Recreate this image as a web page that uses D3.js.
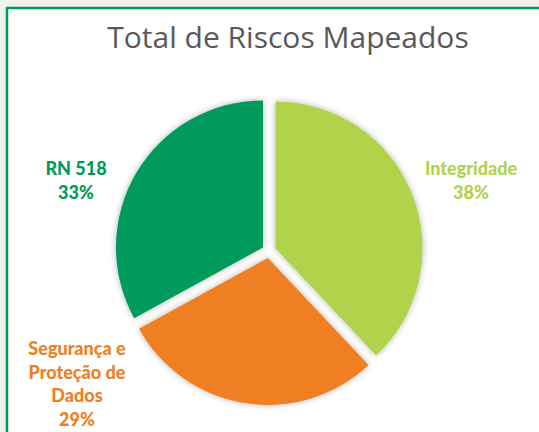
<!DOCTYPE html>
<html>
<head>
<meta charset="utf-8">
<script src="https://cdn.jsdelivr.net/npm/d3@7"></script>
<style>
  html, body { margin: 0; padding: 0; background: #f0f2ee; overflow: hidden; }
  svg { display: block; }
</style>
</head>
<body>
<div id="chart"></div>
<script>
// data
const categories = ["Integridade", "Segurança e Proteção de Dados", "RN 518"];
const labelLines = [["Integridade"], ["Segurança e", "Proteção de", "Dados"], ["RN 518"]];
const values = [38, 29, 33];
const colors = ["#b1d24c", "#f07e22", "#009a5b"];

// layout
const WIDTH = 539, HEIGHT = 432;
const CENTER = {x: 269, y: 251};
const RADIUS = 147;
const EXPLODE = 7;
// label centres (x, baseline of first line) placed like the original chart
const LABEL_POS = [[471, 175], [77, 355], [76, 175]];
const LINE_H = 23.5;

const svg = d3.select("#chart").append("svg")
  .attr("width", WIDTH)
  .attr("height", HEIGHT);

// frame
svg.append("rect")
  .attr("x", 7).attr("y", 8)
  .attr("width", WIDTH + 20).attr("height", HEIGHT + 20)
  .attr("fill", "#ffffff")
  .attr("stroke", "#009a5b")
  .attr("stroke-width", 2.5);

// soft shadow around slices
const defs = svg.append("defs");
const f = defs.append("filter").attr("id", "glow")
  .attr("x", "-20%").attr("y", "-20%").attr("width", "140%").attr("height", "140%");
f.append("feDropShadow")
  .attr("dx", 0).attr("dy", 0)
  .attr("stdDeviation", 3)
  .attr("flood-color", "#000")
  .attr("flood-opacity", 0.3);

// title
svg.append("text")
  .attr("x", 288).attr("y", 48)
  .attr("text-anchor", "middle")
  .attr("font-family", "'Open Sans', sans-serif")
  .attr("font-size", 30)
  .attr("fill", "#595959")
  .text("Total de Riscos Mapeados");

const pie = d3.pie().sort(null).value(d => d)(values);
const arc = d3.arc().innerRadius(0).outerRadius(RADIUS);

const g = svg.append("g")
  .attr("transform", "translate(" + CENTER.x + "," + CENTER.y + ")");

g.selectAll("path.slice")
  .data(pie)
  .enter()
  .append("path")
    .attr("class", "slice")
    .attr("d", arc)
    .attr("fill", (d, i) => colors[i])
    .attr("filter", "url(#glow)")
    .attr("transform", d => {
      const a = (d.startAngle + d.endAngle) / 2;
      return "translate(" + (Math.sin(a) * EXPLODE) + "," + (-Math.cos(a) * EXPLODE) + ")";
    });

// labels
const total = d3.sum(values);
const labels = svg.selectAll("text.lbl")
  .data(pie)
  .enter()
  .append("text")
    .attr("class", "lbl")
    .attr("text-anchor", "middle")
    .attr("font-family", "Lato, sans-serif")
    .attr("font-weight", 900)
    .attr("font-size", 18)
    .attr("fill", (d, i) => colors[i]);

labels.each(function(d, i) {
  const t = d3.select(this);
  const lines = labelLines[i].concat([Math.round(d.value / total * 100) + "%"]);
  lines.forEach((ln, k) => {
    t.append("tspan")
      .attr("x", LABEL_POS[i][0])
      .attr("y", LABEL_POS[i][1] + k * LINE_H)
      .text(ln);
  });
});
</script>
</body>
</html>
